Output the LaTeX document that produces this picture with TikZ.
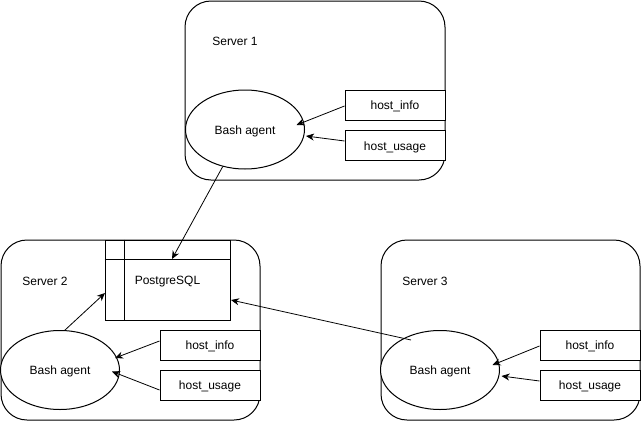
\documentclass[tikz,border=0pt]{standalone}
\usepackage{fontspec}
\setmainfont{Liberation Sans}
\usetikzlibrary{arrows.meta,shapes.geometric}
\begin{document}
\begin{tikzpicture}[x=1pt,y=-1pt,
  every node/.style={font=\fontsize{12}{14}\selectfont},
  server/.style={draw,line width=1pt,rounded corners=26pt},
  intext/.style={text height=10pt,text depth=1pt},
  agent/.style={draw,ellipse,fill=white,line width=1pt,minimum width=119pt,minimum height=79pt,inner sep=0pt,intext},
  hostbox/.style={draw,rectangle,fill=white,line width=1pt,minimum width=100pt,minimum height=30pt,inner sep=0pt,intext},
  dbbox/.style={draw,rectangle,fill=white,line width=1pt,minimum width=125pt,minimum height=80pt,inner sep=0pt,intext},
  label/.style={inner sep=0pt},
  conn/.style={line width=0.8pt,-{Stealth[length=8pt,width=7pt,inset=2.5pt]}}
]
\useasboundingbox (0,0) rectangle (641,421);
% servers
\draw[server] (185,1) rectangle (445,180);
\draw[server] (1,240) rectangle (260,420);
\draw[server] (381,240) rectangle (640,420);
\node[label] (s1) at (235,41) {Server 1};
\node[label] (s2) at (45,281) {Server 2};
\node[label] (s3) at (425,281) {Server 3};
% postgres
\node[dbbox] (pg) at (167.5,280) {PostgreSQL};
\draw[line width=1pt] ([xshift=20pt]pg.north west) -- ([xshift=20pt]pg.south west);
\draw[line width=1pt] ([yshift=-20pt]pg.north west) -- ([yshift=-20pt]pg.north east);
\coordinate (pgtop) at (172,259);
\coordinate (pgleft) at (105,293);
\coordinate (pgright) at (231,300);
% agents
\node[agent] (a1) at (245,129.5) {Bash agent};
\node[agent] (a2) at (60,370) {Bash agent};
\node[agent] (a3) at (440,370) {Bash agent};
% host boxes
\node[hostbox] (hi1) at (395,105) {host\_info};
\node[hostbox] (hu1) at (395,145.5) {host\_usage};
\node[hostbox] (hi2) at (210,345) {host\_info};
\node[hostbox] (hu2) at (210,385) {host\_usage};
\node[hostbox] (hi3) at (590,345) {host\_info};
\node[hostbox] (hu3) at (590,385) {host\_usage};
\coordinate (a1in1) at (296.5,125);
\coordinate (a1in2) at (306,136);
\coordinate (a2in1) at (115,358);
\coordinate (a2in2) at (112,371.5);
\coordinate (a3in1) at (492.5,365);
\coordinate (a3in2) at (501.5,376);
\coordinate (a3out) at (411,340);
% connectors
\draw[conn] ([yshift=-1pt]hi1.west) -- (a1in1);
\draw[conn] ([yshift=4.5pt]hu1.west) -- (a1in2);
\draw[conn] ([yshift=4pt]hi2.west) -- (a2in1);
\draw[conn] ([yshift=-5pt]hu2.west) -- (a2in2);
\draw[conn] ([yshift=-1pt]hi3.west) -- (a3in1);
\draw[conn] ([yshift=4pt]hu3.west) -- (a3in2);
\draw[conn] (a1.-121) -- (pgtop);
\draw[conn] (a2.83) -- (pgleft);
\draw[conn] (a3out) -- (pgright);
\end{tikzpicture}
\end{document}
